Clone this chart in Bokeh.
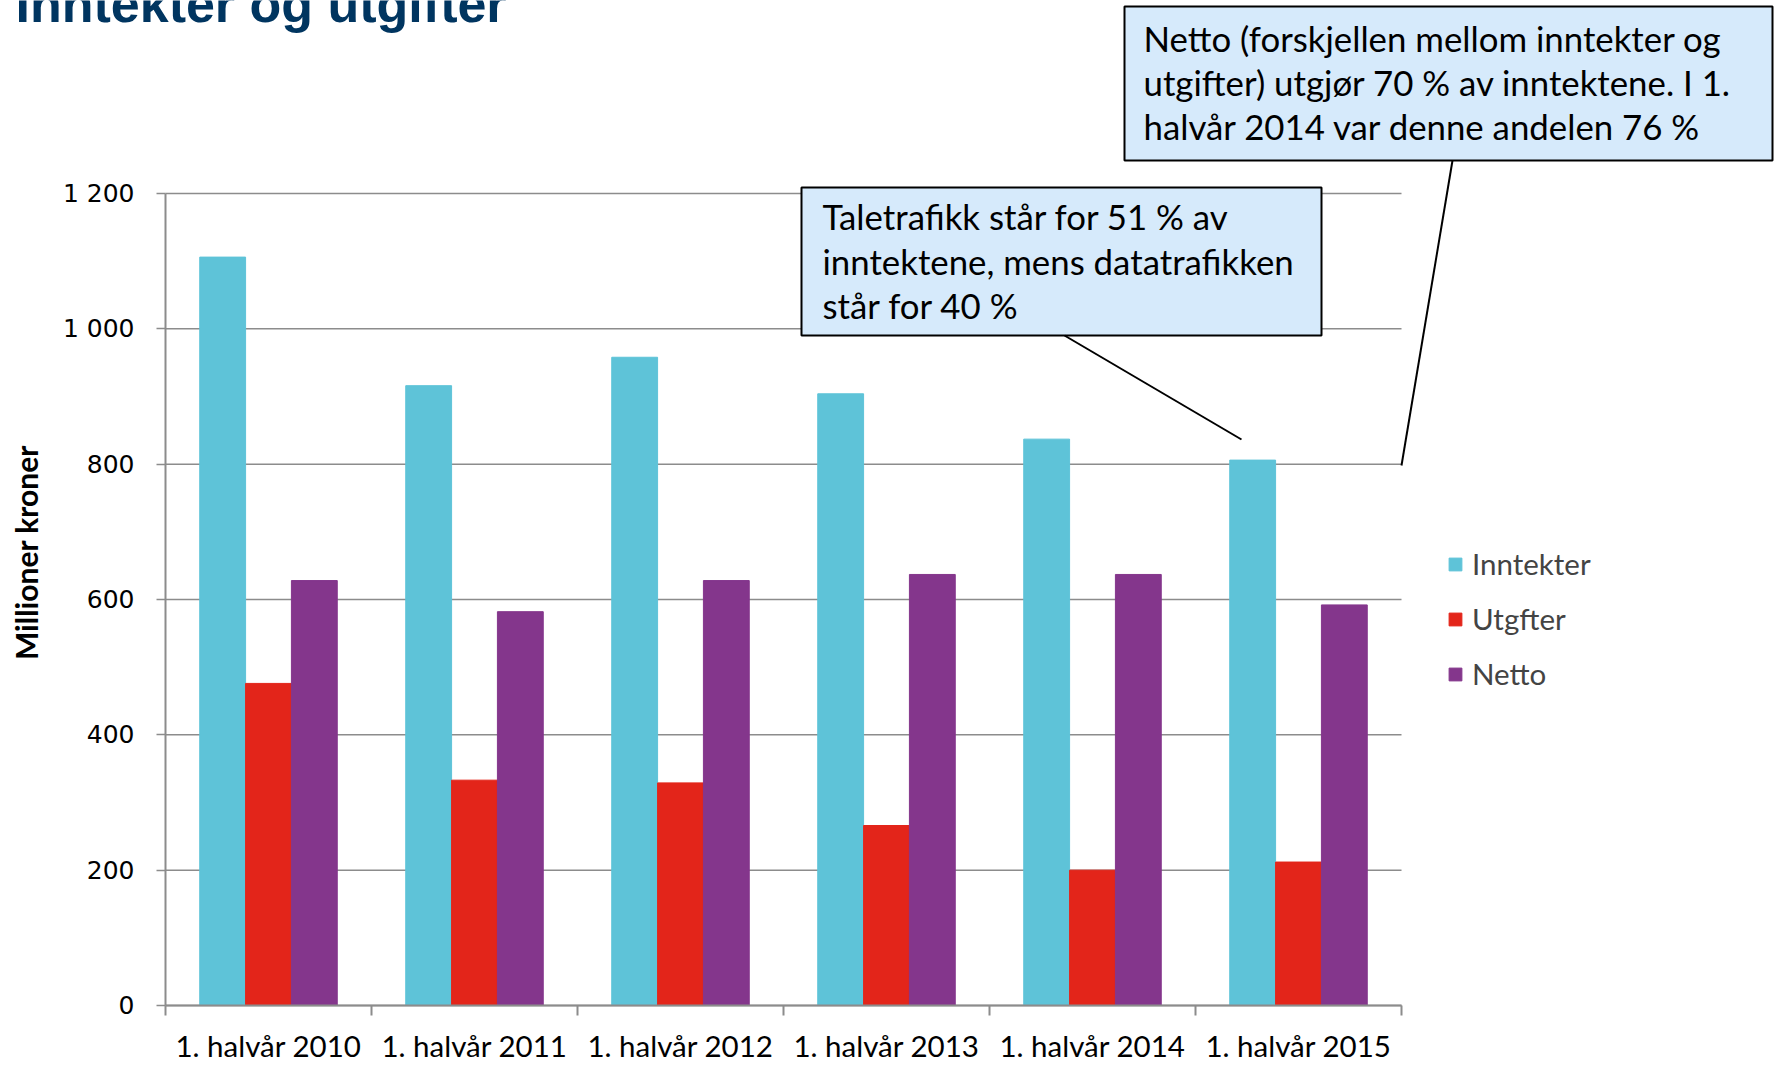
import numpy as np
from bokeh.plotting import figure
from bokeh.models import Range1d, FixedTicker, Label, BoxAnnotation, Arrow
from bokeh.embed import file_html
from bokeh.resources import INLINE

# ---------------- data ----------------
periods = ["1. halvår 2010", "1. halvår 2011", "1. halvår 2012",
           "1. halvår 2013", "1. halvår 2014", "1. halvår 2015"]
inntekter = [1106, 916, 958, 904, 837, 806]
utgifter = [476, 333, 329, 266, 200, 212]
netto = [628, 582, 628, 637, 637, 592]
series_names = ["Inntekter", "Utgfter", "Netto"]
y_ticks = [0, 200, 400, 600, 800, 1000, 1200]
y_tick_labels = ["0", "200", "400", "600", "800", "1 000", "1 200"]
title_text = "Inntekter og utgifter"
y_title = "Millioner kroner"
note_tale = ["Taletrafikk står for 51 % av",
             "inntektene, mens datatrafikken",
             "står for 40 %"]
note_netto = ["Netto (forskjellen mellom inntekter og",
              "utgifter) utgjør 70 % av inntektene. I 1.",
              "halvår 2014 var denne andelen 76 %"]

colors = ["#5EC3D8", "#E3251A", "#84368C"]
GRAY = "#8C8C8C"

# ---------------- layout (page pixels) ----------------
W, H = 1775, 1065
F_LEFT, F_TOP, F_RIGHT, F_BOTTOM = 165, 193, 1401, 1005   # chart area in page px
YMAX = 1200
NCAT = len(periods)

def dx(px):
    return (px - F_LEFT) / ((F_RIGHT - F_LEFT) / NCAT)

def dy(py):
    return (F_BOTTOM - py) * YMAX / (F_BOTTOM - F_TOP)

p = figure(width=W, height=H, x_range=Range1d(dx(0), dx(W)), y_range=Range1d(dy(H), dy(0)),
           output_backend="svg", toolbar_location=None, min_border=0)
p.title.visible = False
p.outline_line_color = None
p.background_fill_color = "white"
p.border_fill_color = "white"
p.xgrid.visible = False
p.ygrid.visible = False

# horizontal grid lines across the category span
p.segment(x0=0, x1=NCAT, y0=y_ticks, y1=y_ticks, line_color=GRAY, line_width=1.5)

centers = np.arange(NCAT) + 0.5
bw = 0.2225
offsets = [-bw, 0.0, bw]
for name, vals, col, off in zip(series_names, [inntekter, utgifter, netto], colors, offsets):
    p.vbar(x=centers + off, top=vals, bottom=0, width=bw, fill_color=col,
           line_color=col, line_width=1, legend_label=name)

# axes (placed at data 0, limited to the chart span)
p.xaxis.fixed_location = 0
p.xaxis.bounds = (0, NCAT)
p.xaxis.ticker = FixedTicker(ticks=list(centers), minor_ticks=list(range(NCAT + 1)))
p.xaxis.major_label_overrides = {float(c): lab for c, lab in zip(centers, periods)}
p.xaxis.axis_line_color = GRAY
p.xaxis.axis_line_width = 2
p.xaxis.major_tick_out = 0
p.xaxis.major_tick_in = 0
p.xaxis.minor_tick_out = 10
p.xaxis.minor_tick_in = 0
p.xaxis.minor_tick_line_color = GRAY
p.xaxis.minor_tick_line_width = 2
p.xaxis.major_label_text_font = "Lato"
p.xaxis.major_label_text_font_size = "29.5px"
p.xaxis.major_label_text_color = "black"
p.xaxis.major_label_standoff = 12

p.yaxis.fixed_location = 0
p.yaxis.bounds = (0, YMAX)
p.yaxis.ticker = FixedTicker(ticks=y_ticks)
p.yaxis.major_label_overrides = {t: l for t, l in zip(y_ticks, y_tick_labels)}
p.yaxis.axis_line_color = GRAY
p.yaxis.axis_line_width = 2
p.yaxis.major_tick_out = 9
p.yaxis.major_tick_in = 0
p.yaxis.major_tick_line_color = GRAY
p.yaxis.major_tick_line_width = 1.5
p.yaxis.minor_tick_line_color = None
p.yaxis.major_label_text_font = "DejaVu Sans"
p.yaxis.major_label_text_font_size = "25px"
p.yaxis.major_label_text_color = "black"
p.yaxis.major_label_standoff = 22

# legend
leg = p.legend[0]
leg.location = (1447, H - 691)
leg.padding = 0
leg.margin = 0
leg.spacing = 20
leg.glyph_width = 16
leg.glyph_height = 16
leg.label_height = 34
leg.label_standoff = 9
leg.label_text_font = "Lato"
leg.label_text_font_size = "29.5px"
leg.border_line_alpha = 0
leg.background_fill_alpha = 0

# title (top cut by the picture's edge, as in the source) and y title
p.add_layout(Label(x=dx(15), y=dy(3), text=title_text, text_font="Liberation Sans",
                   text_font_style="bold", text_font_size="52px", text_color="#003560",
                   text_baseline="alphabetic", text_align="left"))
p.add_layout(Label(x=dx(25), y=dy(552), text=y_title, angle=np.pi / 2,
                   text_font="Lato", text_font_style="bold", text_font_size="30px",
                   text_align="center", text_baseline="middle", text_color="black"))

# callouts
BOXFILL = "#D6EAFB"
p.add_layout(BoxAnnotation(left=dx(801), right=dx(1321), top=dy(187), bottom=dy(335),
                           fill_color=BOXFILL, fill_alpha=1, line_color="black",
                           line_width=2, line_alpha=1))
p.add_layout(BoxAnnotation(left=dx(1124), right=dx(1772), top=dy(6), bottom=dy(160),
                           fill_color=BOXFILL, fill_alpha=1, line_color="black",
                           line_width=2, line_alpha=1))
for txt, ypx in zip(note_tale, [216, 261, 305]):
    p.add_layout(Label(x=dx(822), y=dy(ypx), text=txt, text_font="Lato",
                       text_font_size="34.8px", text_baseline="middle", text_align="left",
                       text_color="black"))
for txt, ypx in zip(note_netto, [38, 82, 126]):
    p.add_layout(Label(x=dx(1143), y=dy(ypx), text=txt, text_font="Lato",
                       text_font_size="34.8px", text_baseline="middle", text_align="left",
                       text_color="black"))
p.add_layout(Arrow(end=None, x_start=dx(1064), y_start=dy(335), x_end=dx(1241), y_end=dy(439),
                   line_color="black", line_width=2))
p.add_layout(Arrow(end=None, x_start=dx(1452), y_start=dy(160), x_end=dx(1401), y_end=dy(465),
                   line_color="black", line_width=2))

open("out.html", "w").write(file_html(p, INLINE))
